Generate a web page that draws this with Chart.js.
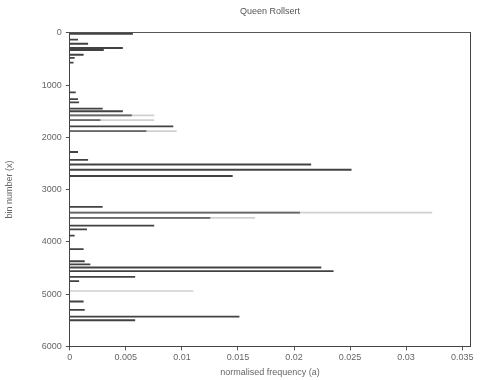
<!DOCTYPE html>
<html>
<head>
<meta charset="utf-8">
<script src="https://cdn.jsdelivr.net/npm/chart.js@4.4.0/dist/chart.umd.min.js"></script>
<style>
	html, body { margin: 0; padding: 0; background: #fff; }
	#wrap { width: 480px; height: 380px; }
</style>
</head>
<body>
<div id="wrap"><canvas id="chart"></canvas></div>
<script>
// bin numbers and normalised frequencies
const bins = [20, 130, 210, 290, 330, 420, 480, 570, 1140, 1270, 1330, 1450, 1500, 1580, 1670, 1790, 1880,
	2280, 2430, 2520, 2620, 2740, 3330, 3440, 3540, 3690, 3760, 3880, 4140, 4370, 4430, 4490, 4560, 4670, 4750,
	5140, 5300, 5430, 5500];
const freqs = [0.0056, 0.0007, 0.0016, 0.0047, 0.003, 0.0012, 0.0004, 0.0003, 0.0005, 0.0007, 0.0008, 0.0029, 0.0047, 0.0055, 0.0027, 0.0092, 0.0068,
	0.0007, 0.0016, 0.0215, 0.0251, 0.0145, 0.0029, 0.0205, 0.0125, 0.0075, 0.0015, 0.0004, 0.0012, 0.0013, 0.0018, 0.0224, 0.0235, 0.0058, 0.0008,
	0.0012, 0.0013, 0.0151, 0.0058];

// faint dashed tails behind some bars
const faintBins = [1580, 1670, 1880, 3440, 3540, 4940];
const faintFreqs = [0.0075, 0.0075, 0.0095, 0.0323, 0.0165, 0.011];

const xTicks = [0, 0.005, 0.01, 0.015, 0.02, 0.025, 0.03, 0.035];
const yTicks = [0, 1000, 2000, 3000, 4000, 5000, 6000];

const toPoints = (ys, xs) => ys.map((y, i) => ({x: xs[i], y: y}));

const font = {family: 'Liberation Sans', size: 9};
Chart.defaults.color = '#666';

new Chart(document.getElementById('chart'), {
	type: 'bar',
	data: {
		datasets: [{
			label: 'faint',
			data: toPoints(faintBins, faintFreqs),
			backgroundColor: 'rgba(150,150,150,0.45)',
			barThickness: 1,
			grouped: false
		}, {
			label: 'frequency',
			data: toPoints(bins, freqs),
			backgroundColor: 'rgba(45,45,45,0.9)',
			barThickness: 1.2,
			grouped: false
		}]
	},
	options: {
		indexAxis: 'y',
		responsive: true,
		maintainAspectRatio: false,
		animation: false,
		layout: {padding: {top: 6, right: 2, bottom: 2, left: 4}},
		plugins: {
			legend: {display: false},
			tooltip: {enabled: false}
		},
		scales: {
			x: {
				type: 'linear',
				position: 'bottom',
				min: 0,
				max: 0.0357,
				afterBuildTicks: axis => { axis.ticks = xTicks.map(v => ({value: v})); },
				ticks: {
					font: font,
					padding: 2,
					maxRotation: 0,
					callback: v => String(+v.toFixed(3))
				},
				grid: {drawOnChartArea: false, tickLength: 4, color: '#555'},
				border: {color: '#444'},
				title: {display: true, text: 'normalised frequency (a)', font: font, padding: {top: 2, bottom: 0}}
			},
			// top axis carries the title so it centres over the plot area
			x2: {
				type: 'linear',
				position: 'top',
				min: 0,
				max: 0.0357,
				ticks: {display: false},
				grid: {display: false},
				border: {color: '#555'},
				title: {display: true, text: 'Queen Rollsert', font: font, color: '#555', padding: {top: 0, bottom: 8}}
			},
			y: {
				type: 'linear',
				position: 'left',
				reverse: true,
				offset: false,
				min: 0,
				max: 6000,
				afterBuildTicks: axis => { axis.ticks = yTicks.map(v => ({value: v})); },
				ticks: {font: font, padding: 4, callback: v => String(v)},
				grid: {drawOnChartArea: false, tickLength: 4, color: '#555', offset: false},
				border: {color: '#444'},
				title: {display: true, text: 'bin number (x)', font: font, padding: {top: 0, bottom: 23}}
			},
			y2: {
				type: 'linear',
				position: 'right',
				reverse: true,
				offset: false,
				min: 0,
				max: 6000,
				ticks: {display: false},
				grid: {display: false},
				border: {color: '#444'}
			}
		}
	}
});
</script>
</body>
</html>
